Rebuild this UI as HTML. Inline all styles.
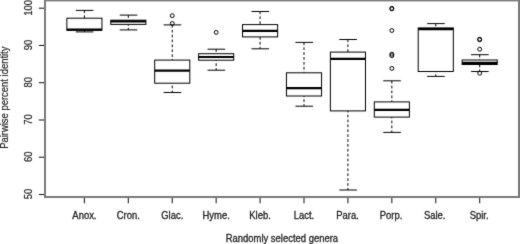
<!DOCTYPE html>
<html><head><meta charset="utf-8"><style>
html,body{margin:0;padding:0;background:#fff;width:520px;height:244px;overflow:hidden}
svg{display:block}
.t{font-family:"Liberation Sans",sans-serif;font-size:10px;fill:#222;stroke:#222;stroke-width:0.3px}
.r{stroke-width:0.2px}
</style></head><body>
<svg width="520" height="244" viewBox="0 0 520 244">
<defs><filter id="b" x="0" y="0" width="520" height="244" filterUnits="userSpaceOnUse" color-interpolation-filters="sRGB"><feConvolveMatrix order="3" kernelMatrix="0.01134 0.08382 0.01134 0.08382 0.61935 0.08382 0.01134 0.08382 0.01134" edgeMode="duplicate"/></filter></defs>
<g filter="url(#b)">
<rect x="-10" y="-10" width="540" height="264" fill="#fff"/>
<line x1="38.8" y1="194.50" x2="45" y2="194.50" stroke="#222" stroke-width="1.1"/>
<text x="0" y="0" transform="translate(32.0,194.10) rotate(-90) scale(0.945,1)" text-anchor="middle" class="t r">50</text>
<line x1="38.8" y1="157.24" x2="45" y2="157.24" stroke="#222" stroke-width="1.1"/>
<text x="0" y="0" transform="translate(32.0,156.84) rotate(-90) scale(0.945,1)" text-anchor="middle" class="t r">60</text>
<line x1="38.8" y1="119.98" x2="45" y2="119.98" stroke="#222" stroke-width="1.1"/>
<text x="0" y="0" transform="translate(32.0,119.58) rotate(-90) scale(0.945,1)" text-anchor="middle" class="t r">70</text>
<line x1="38.8" y1="82.72" x2="45" y2="82.72" stroke="#222" stroke-width="1.1"/>
<text x="0" y="0" transform="translate(32.0,82.32) rotate(-90) scale(0.945,1)" text-anchor="middle" class="t r">80</text>
<line x1="38.8" y1="45.46" x2="45" y2="45.46" stroke="#222" stroke-width="1.1"/>
<text x="0" y="0" transform="translate(32.0,45.06) rotate(-90) scale(0.945,1)" text-anchor="middle" class="t r">90</text>
<line x1="38.8" y1="8.20" x2="45" y2="8.20" stroke="#222" stroke-width="1.1"/>
<text x="0" y="0" transform="translate(32.0,7.80) rotate(-90) scale(0.945,1)" text-anchor="middle" class="t r">100</text>
<line x1="84.40" y1="197" x2="84.40" y2="203.2" stroke="#222" stroke-width="1.1"/>
<text x="0" y="0" transform="translate(84.40,218.7) scale(0.945,1)" text-anchor="middle" class="t">Anox.</text>
<line x1="84.40" y1="10.4" x2="84.40" y2="18.2" stroke="#000" stroke-width="1" stroke-dasharray="2.7,2.19"/>
<line x1="84.40" y1="31.9" x2="84.40" y2="30.2" stroke="#000" stroke-width="1" stroke-dasharray="2.7,2.19" stroke-dashoffset="0.7"/>
<line x1="75.80" y1="10.4" x2="93.40" y2="10.4" stroke="#000" stroke-width="1"/>
<line x1="75.80" y1="31.9" x2="93.40" y2="31.9" stroke="#000" stroke-width="1"/>
<rect x="66.85" y="18.2" width="35.10" height="12.00" fill="#fff" stroke="#000" stroke-width="1"/>
<line x1="66.85" y1="29.6" x2="101.95" y2="29.6" stroke="#000" stroke-width="2.2"/>
<line x1="128.32" y1="197" x2="128.32" y2="203.2" stroke="#222" stroke-width="1.1"/>
<text x="0" y="0" transform="translate(128.32,218.7) scale(0.945,1)" text-anchor="middle" class="t">Cron.</text>
<line x1="128.32" y1="15.1" x2="128.32" y2="20.2" stroke="#000" stroke-width="1" stroke-dasharray="2.7,2.19"/>
<line x1="128.32" y1="29.9" x2="128.32" y2="24.4" stroke="#000" stroke-width="1" stroke-dasharray="2.7,2.19" stroke-dashoffset="0.7"/>
<line x1="119.72" y1="15.1" x2="137.32" y2="15.1" stroke="#000" stroke-width="1"/>
<line x1="119.72" y1="29.9" x2="137.32" y2="29.9" stroke="#000" stroke-width="1"/>
<rect x="110.77" y="20.2" width="35.10" height="4.20" fill="#fff" stroke="#000" stroke-width="1"/>
<line x1="110.77" y1="21.3" x2="145.87" y2="21.3" stroke="#000" stroke-width="2.2"/>
<line x1="172.24" y1="197" x2="172.24" y2="203.2" stroke="#222" stroke-width="1.1"/>
<text x="0" y="0" transform="translate(172.24,218.7) scale(0.945,1)" text-anchor="middle" class="t">Glac.</text>
<line x1="172.24" y1="24.9" x2="172.24" y2="60.1" stroke="#000" stroke-width="1" stroke-dasharray="2.7,2.19"/>
<line x1="172.24" y1="92.5" x2="172.24" y2="83.2" stroke="#000" stroke-width="1" stroke-dasharray="2.7,2.19" stroke-dashoffset="0.7"/>
<line x1="163.64" y1="24.9" x2="181.24" y2="24.9" stroke="#000" stroke-width="1"/>
<line x1="163.64" y1="92.5" x2="181.24" y2="92.5" stroke="#000" stroke-width="1"/>
<rect x="154.69" y="60.1" width="35.10" height="23.10" fill="#fff" stroke="#000" stroke-width="1"/>
<line x1="154.69" y1="70.7" x2="189.79" y2="70.7" stroke="#000" stroke-width="2.2"/>
<circle cx="172.24" cy="15.7" r="1.95" fill="none" stroke="#000" stroke-width="1.0"/>
<circle cx="172.24" cy="23.5" r="1.95" fill="none" stroke="#000" stroke-width="1.0"/>
<line x1="216.16" y1="197" x2="216.16" y2="203.2" stroke="#222" stroke-width="1.1"/>
<text x="0" y="0" transform="translate(216.16,218.7) scale(0.945,1)" text-anchor="middle" class="t">Hyme.</text>
<line x1="216.16" y1="49.2" x2="216.16" y2="53.7" stroke="#000" stroke-width="1" stroke-dasharray="2.7,2.19"/>
<line x1="216.16" y1="70.2" x2="216.16" y2="60.2" stroke="#000" stroke-width="1" stroke-dasharray="2.7,2.19" stroke-dashoffset="0.7"/>
<line x1="207.56" y1="49.2" x2="225.16" y2="49.2" stroke="#000" stroke-width="1"/>
<line x1="207.56" y1="70.2" x2="225.16" y2="70.2" stroke="#000" stroke-width="1"/>
<rect x="198.61" y="53.7" width="35.10" height="6.50" fill="#fff" stroke="#000" stroke-width="1"/>
<line x1="198.61" y1="57.0" x2="233.71" y2="57.0" stroke="#000" stroke-width="2.2"/>
<circle cx="216.16" cy="32.4" r="1.95" fill="none" stroke="#000" stroke-width="1.0"/>
<line x1="260.08" y1="197" x2="260.08" y2="203.2" stroke="#222" stroke-width="1.1"/>
<text x="0" y="0" transform="translate(260.08,218.7) scale(0.945,1)" text-anchor="middle" class="t">Kleb.</text>
<line x1="260.08" y1="11.5" x2="260.08" y2="24.6" stroke="#000" stroke-width="1" stroke-dasharray="2.7,2.19"/>
<line x1="260.08" y1="48.8" x2="260.08" y2="36.9" stroke="#000" stroke-width="1" stroke-dasharray="2.7,2.19" stroke-dashoffset="0.7"/>
<line x1="251.48" y1="11.5" x2="269.08" y2="11.5" stroke="#000" stroke-width="1"/>
<line x1="251.48" y1="48.8" x2="269.08" y2="48.8" stroke="#000" stroke-width="1"/>
<rect x="242.53" y="24.6" width="35.10" height="12.30" fill="#fff" stroke="#000" stroke-width="1"/>
<line x1="242.53" y1="30.9" x2="277.63" y2="30.9" stroke="#000" stroke-width="2.2"/>
<line x1="304.00" y1="197" x2="304.00" y2="203.2" stroke="#222" stroke-width="1.1"/>
<text x="0" y="0" transform="translate(304.00,218.7) scale(0.945,1)" text-anchor="middle" class="t">Lact.</text>
<line x1="304.00" y1="42.4" x2="304.00" y2="72.8" stroke="#000" stroke-width="1" stroke-dasharray="2.7,2.19"/>
<line x1="304.00" y1="106.2" x2="304.00" y2="96.0" stroke="#000" stroke-width="1" stroke-dasharray="2.7,2.19" stroke-dashoffset="0.7"/>
<line x1="295.40" y1="42.4" x2="313.00" y2="42.4" stroke="#000" stroke-width="1"/>
<line x1="295.40" y1="106.2" x2="313.00" y2="106.2" stroke="#000" stroke-width="1"/>
<rect x="286.45" y="72.8" width="35.10" height="23.20" fill="#fff" stroke="#000" stroke-width="1"/>
<line x1="286.45" y1="88.1" x2="321.55" y2="88.1" stroke="#000" stroke-width="2.2"/>
<line x1="347.92" y1="197" x2="347.92" y2="203.2" stroke="#222" stroke-width="1.1"/>
<text x="0" y="0" transform="translate(347.52,218.7) scale(0.945,1)" text-anchor="middle" class="t">Para.</text>
<line x1="347.92" y1="39.5" x2="347.92" y2="52.1" stroke="#000" stroke-width="1" stroke-dasharray="2.7,2.19"/>
<line x1="347.92" y1="190.0" x2="347.92" y2="110.9" stroke="#000" stroke-width="1" stroke-dasharray="2.7,2.19" stroke-dashoffset="0.7"/>
<line x1="339.32" y1="39.5" x2="356.92" y2="39.5" stroke="#000" stroke-width="1"/>
<line x1="339.32" y1="190.0" x2="356.92" y2="190.0" stroke="#000" stroke-width="1"/>
<rect x="330.37" y="52.1" width="35.10" height="58.80" fill="#fff" stroke="#000" stroke-width="1"/>
<line x1="330.37" y1="58.9" x2="365.47" y2="58.9" stroke="#000" stroke-width="2.2"/>
<line x1="391.84" y1="197" x2="391.84" y2="203.2" stroke="#222" stroke-width="1.1"/>
<text x="0" y="0" transform="translate(391.04,218.7) scale(0.945,1)" text-anchor="middle" class="t">Porp.</text>
<line x1="391.84" y1="80.8" x2="391.84" y2="101.9" stroke="#000" stroke-width="1" stroke-dasharray="2.7,2.19"/>
<line x1="391.84" y1="132.4" x2="391.84" y2="117.1" stroke="#000" stroke-width="1" stroke-dasharray="2.7,2.19" stroke-dashoffset="0.7"/>
<line x1="383.24" y1="80.8" x2="400.84" y2="80.8" stroke="#000" stroke-width="1"/>
<line x1="383.24" y1="132.4" x2="400.84" y2="132.4" stroke="#000" stroke-width="1"/>
<rect x="374.29" y="101.9" width="35.10" height="15.20" fill="#fff" stroke="#000" stroke-width="1"/>
<line x1="374.29" y1="109.8" x2="409.39" y2="109.8" stroke="#000" stroke-width="2.2"/>
<circle cx="391.84" cy="8.3" r="1.95" fill="none" stroke="#000" stroke-width="1.0"/>
<circle cx="391.84" cy="8.9" r="1.95" fill="none" stroke="#000" stroke-width="1.0"/>
<circle cx="391.84" cy="30.5" r="1.95" fill="none" stroke="#000" stroke-width="1.0"/>
<circle cx="391.84" cy="54.2" r="1.95" fill="none" stroke="#000" stroke-width="1.0"/>
<circle cx="391.84" cy="55.6" r="1.95" fill="none" stroke="#000" stroke-width="1.0"/>
<circle cx="391.84" cy="68.4" r="1.95" fill="none" stroke="#000" stroke-width="1.0"/>
<line x1="435.76" y1="197" x2="435.76" y2="203.2" stroke="#222" stroke-width="1.1"/>
<text x="0" y="0" transform="translate(434.66,218.7) scale(0.945,1)" text-anchor="middle" class="t">Sale.</text>
<line x1="435.76" y1="23.6" x2="435.76" y2="27.9" stroke="#000" stroke-width="1" stroke-dasharray="2.7,2.19"/>
<line x1="435.76" y1="76.4" x2="435.76" y2="71.5" stroke="#000" stroke-width="1" stroke-dasharray="2.7,2.19" stroke-dashoffset="0.7"/>
<line x1="427.16" y1="23.6" x2="444.76" y2="23.6" stroke="#000" stroke-width="1"/>
<line x1="427.16" y1="76.4" x2="444.76" y2="76.4" stroke="#000" stroke-width="1"/>
<rect x="418.21" y="27.9" width="35.10" height="43.60" fill="#fff" stroke="#000" stroke-width="1"/>
<line x1="418.21" y1="29.1" x2="453.31" y2="29.1" stroke="#000" stroke-width="2.2"/>
<line x1="479.68" y1="197" x2="479.68" y2="203.2" stroke="#222" stroke-width="1.1"/>
<text x="0" y="0" transform="translate(479.08,218.7) scale(0.945,1)" text-anchor="middle" class="t">Spir.</text>
<line x1="479.68" y1="54.7" x2="479.68" y2="60.0" stroke="#000" stroke-width="1" stroke-dasharray="2.7,2.19"/>
<line x1="479.68" y1="71.5" x2="479.68" y2="64.5" stroke="#000" stroke-width="1" stroke-dasharray="2.7,2.19" stroke-dashoffset="0.7"/>
<line x1="471.08" y1="54.7" x2="488.68" y2="54.7" stroke="#000" stroke-width="1"/>
<line x1="471.08" y1="71.5" x2="488.68" y2="71.5" stroke="#000" stroke-width="1"/>
<rect x="462.13" y="60.0" width="35.10" height="4.50" fill="#fff" stroke="#000" stroke-width="1"/>
<line x1="462.13" y1="62.8" x2="497.23" y2="62.8" stroke="#000" stroke-width="2.2"/>
<circle cx="479.68" cy="39.2" r="1.95" fill="none" stroke="#000" stroke-width="1.0"/>
<circle cx="479.68" cy="39.8" r="1.95" fill="none" stroke="#000" stroke-width="1.0"/>
<circle cx="479.68" cy="49.2" r="1.95" fill="none" stroke="#000" stroke-width="1.0"/>
<circle cx="479.68" cy="73.2" r="1.95" fill="none" stroke="#000" stroke-width="1.0"/>
<text x="0" y="0" transform="translate(8.4,97.70) rotate(-90) scale(0.945,1)" text-anchor="middle" class="t r">Pairwise percent identity</text>
<text x="0" y="0" transform="translate(281.90,242.2) scale(0.945,1)" text-anchor="middle" class="t">Randomly selected genera</text>
<rect x="45" y="0.4" width="474" height="196.6" fill="none" stroke="#7a7a7a" stroke-width="2"/>
</g>
</svg>
</body></html>
